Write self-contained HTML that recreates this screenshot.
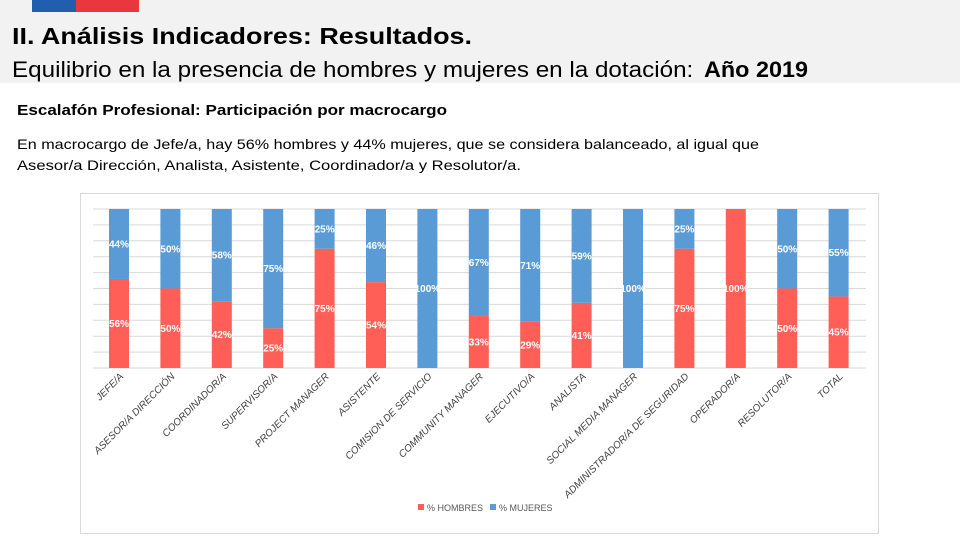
<!DOCTYPE html>
<html><head><meta charset="utf-8"><style>
body{margin:0;width:960px;height:540px;overflow:hidden;background:#fff;font-family:"Liberation Sans",sans-serif}
svg{display:block}
</style></head><body>
<svg width="960" height="540" viewBox="0 0 960 540">
<rect x="0" y="0" width="960" height="83" fill="#f2f2f2"/>
<rect x="32" y="0" width="44" height="12" fill="#1f5fae"/>
<rect x="76" y="0" width="63" height="12" fill="#e8383d"/>
<text x="12" y="44" font-size="23" font-weight="bold" textLength="460" lengthAdjust="spacingAndGlyphs">II. Análisis Indicadores: Resultados.</text>
<text x="12" y="77" font-size="22"><tspan textLength="688" lengthAdjust="spacingAndGlyphs">Equilibrio en la presencia de hombres y mujeres en la dotación: </tspan><tspan x="704" font-weight="bold" textLength="104" lengthAdjust="spacingAndGlyphs">Año 2019</tspan></text>
<text x="17" y="115" font-size="15" font-weight="bold" textLength="430" lengthAdjust="spacingAndGlyphs">Escalafón Profesional: Participación por macrocargo</text>
<text x="17" y="149" font-size="14" textLength="742" lengthAdjust="spacingAndGlyphs">En macrocargo de Jefe/a, hay 56% hombres y 44% mujeres, que se considera balanceado, al igual que</text>
<text x="17" y="170" font-size="14" textLength="504" lengthAdjust="spacingAndGlyphs">Asesor/a Dirección, Analista, Asistente, Coordinador/a y Resolutor/a.</text>
<rect x="80.5" y="193.5" width="798" height="340" fill="#fff" stroke="#d9d9d9"/>
<g id="chart"></g>
<g>
<rect x="418" y="504" width="6" height="6" fill="#ff5f57"/>
<text x="427" y="511" font-size="9" fill="#595959">% HOMBRES</text>
<rect x="490" y="504" width="6" height="6" fill="#5b9bd5"/>
<text x="499" y="511" font-size="9" fill="#595959">% MUJERES</text>
</g>
</svg>
<script>
const categories=["JEFE/A","ASESOR/A DIRECCIÓN","COORDINADOR/A","SUPERVISOR/A","PROJECT MANAGER","ASISTENTE","COMISION DE SERVICIO","COMMUNITY MANAGER","EJECUTIVO/A","ANALISTA","SOCIAL MEDIA MANAGER","ADMINISTRADOR/A DE SEGURIDAD","OPERADOR/A","RESOLUTOR/A","TOTAL"];
const hombres=[56,50,42,25,75,54,0,33,29,41,0,75,100,50,45];
const mujeres=[44,50,58,75,25,46,100,67,71,59,100,25,0,50,55];
const NS="http://www.w3.org/2000/svg";
const g=document.getElementById('chart');
const top0=209,bot=368,x0=93,x1=866,step=51.4,first=119,bw=20;
const y=v=>bot-(bot-top0)*v/100;
const xc=i=>first+i*step;
function mk(t,a){const e=document.createElementNS(NS,t);for(const k in a)e.setAttribute(k,a[k]);g.appendChild(e);return e;}
for(let v=0;v<=100;v+=10){
 const l=mk('line',{x1:x0,x2:x1,y1:y(v),y2:y(v),stroke:'#d9d9d9','stroke-width':1});
 
 
}
categories.forEach((c,i)=>{
 const h=hombres[i],m=mujeres[i],cx=xc(i);
 const rb=mk('rect',{x:cx-bw/2,y:y(h),width:bw,height:bot-y(h),fill:'#ff5f57'});
 
 
 const bb=mk('rect',{x:cx-bw/2,y:y(h+m),width:bw,height:y(h)-y(h+m),fill:'#5b9bd5'});
 
 
 if(h>0){const t=mk('text',{x:cx,y:(y(h)+bot)/2+3.5,'font-size':10,'font-weight':'bold',fill:'#fff','text-anchor':'middle'});t.textContent=h+'%';
  
  }
 if(m>0){const t=mk('text',{x:cx,y:(y(h+m)+y(h))/2+3.5,'font-size':10,'font-weight':'bold',fill:'#fff','text-anchor':'middle'});t.textContent=m+'%';
  
  }
 const lb=mk('text',{x:0,y:0,'font-size':10,fill:'#404040','text-anchor':'end',transform:`translate(${cx+5},${bot+9}) rotate(-45)`,'font-style':'italic'});
 lb.textContent=c;
 
 
});
</script>
</body></html>
